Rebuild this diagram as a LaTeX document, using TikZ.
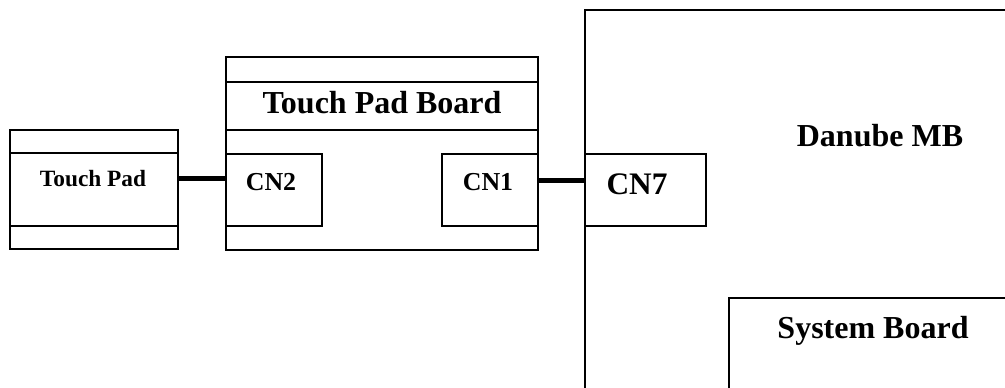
\documentclass[tikz,border=0pt]{standalone}
\usepackage{fontspec}
\setmainfont{Liberation Serif}
\usetikzlibrary{positioning}
\tikzset{
  box/.style={draw, line width=1pt, fill=white, inner sep=0, outer sep=0,
    anchor=north west},
  lbl/.style={inner sep=0, anchor=base, font=\bfseries},
  link/.style={line width=3.75pt}
}
\begin{document}
\begin{tikzpicture}[x=0.75pt,y=-0.75pt]

\useasboundingbox (0,0) rectangle (1005,387);
\clip (0,0) rectangle (1005,387);

% main board
\node [box, minimum width=375pt, minimum height=300pt] (mb) at (585,10) {};
\node [box, minimum width=225pt, minimum height=90pt] (sb) at (729,298) {};
\node [box, minimum width=90.75pt, minimum height=54pt] (cn7) at (585,154) {};

% touch pad
\node [box, minimum width=126pt, minimum height=89.25pt] (tp) at (10,130) {};
\draw [line width=1pt] (tp.west |- 0,153) -- (tp.east |- 0,153);
\draw [line width=1pt] (tp.west |- 0,226) -- (tp.east |- 0,226);

% touch pad board
\node [box, minimum width=234pt, minimum height=144.75pt] (tpb) at (226,57) {};
\draw [line width=1pt] (tpb.west |- 0,82) -- (tpb.east |- 0,82);
\draw [line width=1pt] (tpb.west |- 0,130) -- (tpb.east |- 0,130);
\node [box, minimum width=72pt, minimum height=54pt] (cn2) at (226,154) {};
\node [box, minimum width=72pt, minimum height=54pt] (cn1) at (442,154) {};

% cables
\draw [link] ([yshift=8pt]tp.east) -- ([yshift=8pt]tp.east -| cn2.west);
\draw [link] ([yshift=7pt]cn1.east) -- ([yshift=7pt]cn1.east -| cn7.west);

\node [lbl, font=\bfseries\fontsize{17.5}{20}\selectfont] (tptext) at (93,186) {Touch Pad};
\node [lbl, font=\bfseries\fontsize{24}{28}\selectfont] (tpbtext) at (382,113) {Touch Pad Board};
\node [lbl, font=\bfseries\fontsize{19.4}{22}\selectfont] (cn2text) at (271,190) {CN2};
\node [lbl, font=\bfseries\fontsize{19.4}{22}\selectfont] (cn1text) at (488,190) {CN1};
\node [lbl, font=\bfseries\fontsize{23.5}{27}\selectfont] (cn7text) at (637,194) {CN7};
\node [lbl, font=\bfseries\fontsize{24}{28}\selectfont] (mbtext) at (880,146) {Danube MB};
\node [lbl, font=\bfseries\fontsize{24}{28}\selectfont] (sbtext) at (873,338) {System Board};

\end{tikzpicture}
\end{document}
